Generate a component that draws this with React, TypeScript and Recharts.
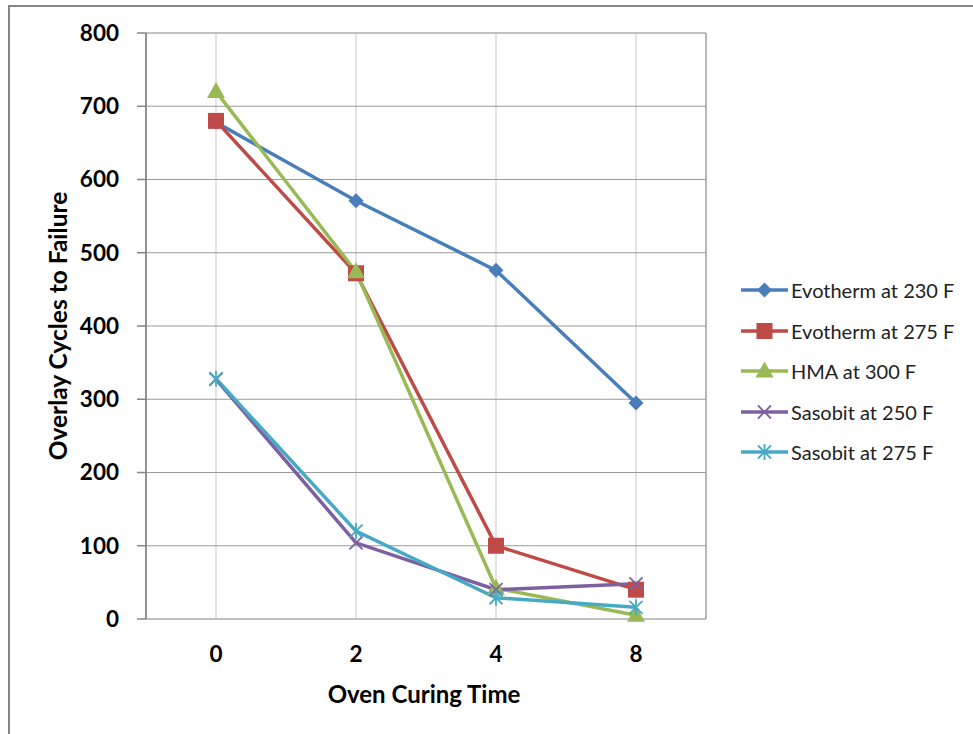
import React from 'react';
import { LineChart, Line, XAxis, YAxis, CartesianGrid, Legend } from 'recharts';

// Oven curing time categories (hours)
const curingTimes = ['0', '2', '4', '8'];

// Overlay cycles to failure per mix
const evotherm230 = [678, 571, 476, 295];
const evotherm275 = [680, 472, 100, 40];
const hma300 = [720, 474, 42, 5];
const sasobit250 = [327, 104, 40, 48];
const sasobit275 = [328, 120, 29, 16];

const yMajorTicks = [0, 100, 200, 300, 400, 500, 600, 700, 800];
const yMinorTicks = [
  0, 20, 40, 60, 80, 100, 120, 140, 160, 180, 200, 220, 240, 260, 280, 300, 320, 340, 360, 380, 400,
  420, 440, 460, 480, 500, 520, 540, 560, 580, 600, 620, 640, 660, 680, 700, 720, 740, 760, 780, 800,
];
const categoryBounds = [0, 1, 2, 3, 4];
const categoryCenters = [0.5, 1.5, 2.5, 3.5];

type MarkerType = 'diamond' | 'square' | 'triangle' | 'x' | 'star';

const series: { key: string; name: string; color: string; values: number[]; marker: MarkerType }[] = [
  { key: 'evo230', name: 'Evotherm at 230 F', color: '#4A7EBB', values: evotherm230, marker: 'diamond' },
  { key: 'evo275', name: 'Evotherm at 275 F', color: '#BE4B48', values: evotherm275, marker: 'square' },
  { key: 'hma300', name: 'HMA at 300 F', color: '#98B954', values: hma300, marker: 'triangle' },
  { key: 'sas250', name: 'Sasobit at 250 F', color: '#7D60A0', values: sasobit250, marker: 'x' },
  { key: 'sas275', name: 'Sasobit at 275 F', color: '#46AAC5', values: sasobit275, marker: 'star' },
];

const data = curingTimes.map((time, i) => {
  const row: Record<string, number | string> = { time, pos: categoryCenters[i] };
  series.forEach((s) => {
    row[s.key] = s.values[i];
  });
  return row;
});

const FONT = 'Lato, "Open Sans", sans-serif';
const AXIS_GRAY = '#868686';

function Marker({ type, cx, cy, color }: { type: MarkerType; cx: number; cy: number; color: string }) {
  switch (type) {
    case 'diamond':
      return <polygon points={`${cx},${cy - 7.5} ${cx + 7.5},${cy} ${cx},${cy + 7.5} ${cx - 7.5},${cy}`} fill={color} />;
    case 'square':
      return <rect x={cx - 8} y={cy - 8} width={16} height={16} fill={color} />;
    case 'triangle':
      return <polygon points={`${cx},${cy - 9.5} ${cx + 9},${cy + 6.5} ${cx - 9},${cy + 6.5}`} fill={color} />;
    case 'x':
      return (
        <path
          d={`M${cx - 6.5},${cy - 6.5}L${cx + 6.5},${cy + 6.5}M${cx - 6.5},${cy + 6.5}L${cx + 6.5},${cy - 6.5}`}
          stroke={color}
          strokeWidth={1.8}
          fill="none"
        />
      );
    case 'star':
    default:
      return (
        <path
          d={`M${cx - 6.5},${cy - 6.5}L${cx + 6.5},${cy + 6.5}M${cx - 6.5},${cy + 6.5}L${cx + 6.5},${cy - 6.5}M${cx},${cy - 8}L${cx},${cy + 8}`}
          stroke={color}
          strokeWidth={1.8}
          fill="none"
        />
      );
  }
}

function LegendBox() {
  return (
    <div style={{ fontFamily: FONT, fontSize: 20, color: '#222' }}>
      {series.map((s) => (
        <div key={s.key} style={{ display: 'flex', alignItems: 'center', height: 40.5 }}>
          <svg width={48} height={20} style={{ display: 'block', flex: 'none' }}>
            <line x1={0} y1={10} x2={47} y2={10} stroke={s.color} strokeWidth={3.5} />
            <Marker type={s.marker} cx={23.5} cy={10} color={s.color} />
          </svg>
          <span style={{ marginLeft: 2, whiteSpace: 'nowrap' }}>{s.name}</span>
        </div>
      ))}
    </div>
  );
}

function YTitle(props: any) {
  const vb = props.viewBox || { x: 0, y: 33, width: 146, height: 586 };
  const x = vb.x + 57;
  const y = vb.y + vb.height / 2;
  return (
    <text
      x={x}
      y={y}
      transform={`rotate(-90, ${x}, ${y})`}
      textAnchor="middle"
      dominantBaseline="central"
      fontFamily={FONT}
      fontWeight="bold"
      fontSize={24.5}
      fill="#000"
    >
      Overlay Cycles to Failure
    </text>
  );
}

function XTitle(props: any) {
  const vb = props.viewBox || { x: 146, y: 619, width: 560, height: 115 };
  const x = vb.x + vb.width / 2 - 2;
  const y = vb.y + 74;
  return (
    <text x={x} y={y} textAnchor="middle" dominantBaseline="central" fontFamily={FONT} fontWeight="bold" fontSize={24} fill="#000">
      Oven Curing Time
    </text>
  );
}

const tickStyle = { fontFamily: FONT, fontWeight: 'bold' as const, fontSize: 22.5, fill: '#000' };

export default function App() {
  return (
    <div style={{ position: 'relative', width: 973, height: 734, overflow: 'hidden', background: '#fff' }}>
      <style>{'html, body { margin: 0; padding: 0; overflow: hidden; }'}</style>
      {/* chart frame: top and left edges */}
      <div style={{ position: 'absolute', left: 8, top: 5, width: 965, height: 2, background: AXIS_GRAY }} />
      <div style={{ position: 'absolute', left: 8, top: 5, width: 2, height: 729, background: AXIS_GRAY }} />
      <div style={{ position: 'absolute', left: 0, top: 0 }}>
        <LineChart width={973} height={734} data={data} margin={{ top: 33, right: 267, bottom: 0, left: 0 }}>
          <CartesianGrid xAxisId="centers" yAxisId="minor" stroke="#D0D0D0" strokeWidth={1.2} horizontal vertical />
          <CartesianGrid xAxisId="bounds" yAxisId="main" stroke="#9A9A9A" strokeWidth={1.2} horizontal vertical />
          <YAxis
            yAxisId="main"
            type="number"
            domain={[0, 800]}
            ticks={yMajorTicks}
            interval={0}
            width={146}
            tickSize={9}
            tickMargin={18}
            axisLine={{ stroke: AXIS_GRAY, strokeWidth: 1.5 }}
            tickLine={{ stroke: AXIS_GRAY, strokeWidth: 1.5 }}
            tick={tickStyle}
            label={<YTitle />}
          />
          <YAxis yAxisId="minor" type="number" domain={[0, 800]} ticks={yMinorTicks} interval={0} hide />
          <XAxis
            xAxisId="bounds"
            type="number"
            dataKey="pos"
            domain={[0, 4]}
            ticks={categoryBounds}
            interval={0}
            height={0}
            tick={false}
            tickSize={9}
            axisLine={{ stroke: AXIS_GRAY, strokeWidth: 1.5 }}
            tickLine={{ stroke: AXIS_GRAY, strokeWidth: 1.5 }}
          />
          <XAxis
            xAxisId="centers"
            type="number"
            dataKey="pos"
            domain={[0, 4]}
            ticks={categoryCenters}
            interval={0}
            height={115}
            axisLine={false}
            tickLine={false}
            tickSize={0}
            tickMargin={27}
            tick={tickStyle}
            tickFormatter={(v: number) => curingTimes[Math.floor(v)]}
            label={<XTitle />}
          />
          <Legend
            layout="horizontal"
            verticalAlign="middle"
            align="center"
            wrapperStyle={{ left: 741, top: 270, width: 232, height: 205 }}
            content={() => <LegendBox />}
          />
          {series.map((s) => (
            <Line
              key={s.key}
              xAxisId="centers"
              yAxisId="main"
              type="linear"
              dataKey={s.key}
              name={s.name}
              stroke={s.color}
              strokeWidth={3.5}
              isAnimationActive={false}
              activeDot={false}
              dot={(p: any) => <Marker key={`${s.key}-${p.index}`} type={s.marker} cx={p.cx} cy={p.cy} color={s.color} />}
            />
          ))}
        </LineChart>
      </div>
    </div>
  );
}
